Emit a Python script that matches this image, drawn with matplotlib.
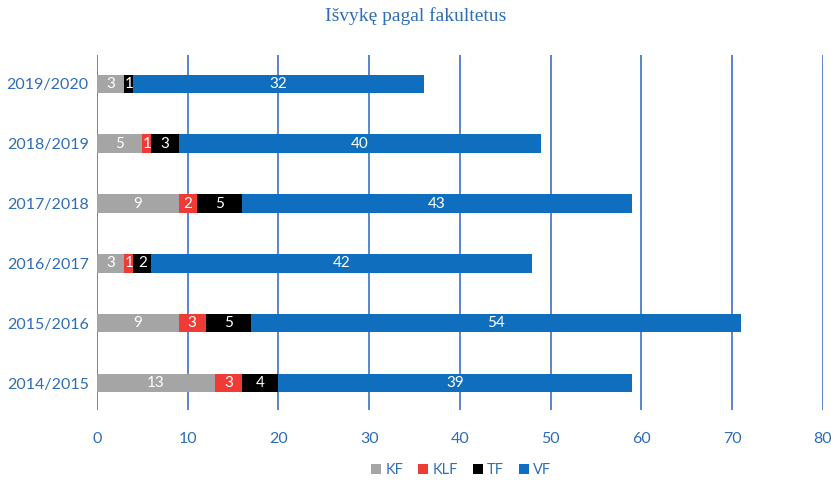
import numpy as np
import matplotlib
matplotlib.use('Agg')
import matplotlib.pyplot as plt

years = ['2014/2015', '2015/2016', '2016/2017', '2017/2018', '2018/2019', '2019/2020']
kf = [13, 9, 3, 9, 5, 3]
klf = [3, 3, 1, 2, 1, 0]
tf = [4, 5, 2, 5, 3, 1]
vf = [39, 54, 42, 43, 40, 32]

series = [('KF', kf, '#A5A5A5'), ('KLF', klf, '#EF3B36'),
          ('TF', tf, '#000000'), ('VF', vf, '#0F6FBE')]

blue_txt = '#2E6DB8'
plt.rcParams['font.family'] = ['Lato', 'DejaVu Sans']

fig = plt.figure(figsize=(8.31, 4.8), dpi=100)
ax = fig.add_axes([0.1167, 0.146, 0.8733, 0.739])

y = np.arange(len(years))
left = np.zeros(len(years))
for name, vals, col in series:
    vals = np.array(vals, dtype=float)
    bars = ax.barh(y, vals, left=left, height=0.31, color=col, label=name, zorder=3)
    for b, v in zip(bars, vals):
        if v > 0:
            ax.text(b.get_x() + b.get_width() / 2, b.get_y() + b.get_height() / 2,
                    f'{int(v)}', ha='center', va='center', color='white',
                    fontsize=11, zorder=4)
    left += vals

ax.set_xlim(0, 80)
ax.set_ylim(-0.45, 5.48)
ax.set_xticks(range(0, 81, 10))
ax.set_yticks(y)
ax.set_yticklabels(years)
ax.xaxis.grid(True, color='#4A7CC9', linewidth=1.3, zorder=0)
for s in ax.spines.values():
    s.set_visible(False)
ax.tick_params(length=0, colors=blue_txt, labelsize=11.5)
ax.tick_params(axis='x', pad=16)
ax.tick_params(axis='y', pad=6)

fig.suptitle('Išvykę pagal fakultetus', y=0.985, color=blue_txt,
             fontsize=14, family=['Liberation Serif', 'DejaVu Serif'])

leg = fig.legend(loc='lower center', bbox_to_anchor=(0.555, -0.022), ncol=4,
                 frameon=False, fontsize=10.5, handlelength=0.7, handleheight=0.7,
                 handletextpad=0.3, columnspacing=1.0)
for t in leg.get_texts():
    t.set_color(blue_txt)

fig.savefig('out.png', dpi=100)
